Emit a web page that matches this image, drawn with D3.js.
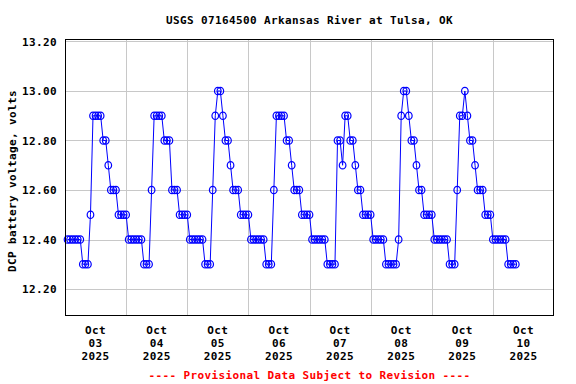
<!DOCTYPE html>
<html>
<head>
<meta charset="utf-8">
<script src="https://cdn.jsdelivr.net/npm/d3@7"></script>
<style>
  html, body { margin: 0; padding: 0; background: #fff; }
  svg text { font-family: "DejaVu Sans Mono", "Liberation Mono", monospace; font-weight: bold; font-size: 11px; letter-spacing: 0.38px; }
</style>
</head>
<body>
<svg id="chart" width="576" height="384"></svg>
<script>
// ---- data ----
const titleText = "USGS 07164500 Arkansas River at Tulsa, OK";
const yAxisTitle = "DCP battery voltage, volts";
const footerText = "---- Provisional Data Subject to Revision ----";
const firstReading = "2025-10-03T01:00:00Z";   // hourly readings
const voltage = [
  12.4,12.4,12.4,12.4,12.4,12.4,12.3,12.3,12.3,12.5,
  12.9,12.9,12.9,12.9,12.8,12.8,12.7,12.6,12.6,12.6,
  12.5,12.5,12.5,12.5,12.4,12.4,12.4,12.4,12.4,12.4,
  12.3,12.3,12.3,12.6,12.9,12.9,12.9,12.9,12.8,12.8,
  12.8,12.6,12.6,12.6,12.5,12.5,12.5,12.5,12.4,12.4,
  12.4,12.4,12.4,12.4,12.3,12.3,12.3,12.6,12.9,13.0,
  13.0,12.9,12.8,12.8,12.7,12.6,12.6,12.6,12.5,12.5,
  12.5,12.5,12.4,12.4,12.4,12.4,12.4,12.4,12.3,12.3,
  12.3,12.6,12.9,12.9,12.9,12.9,12.8,12.8,12.7,12.6,
  12.6,12.6,12.5,12.5,12.5,12.5,12.4,12.4,12.4,12.4,
  12.4,12.4,12.3,12.3,12.3,12.3,12.8,12.8,12.7,12.9,
  12.9,12.8,12.8,12.7,12.6,12.6,12.5,12.5,12.5,12.5,
  12.4,12.4,12.4,12.4,12.4,12.3,12.3,12.3,12.3,12.3,
  12.4,12.9,13.0,13.0,12.9,12.8,12.8,12.7,12.6,12.6,
  12.5,12.5,12.5,12.5,12.4,12.4,12.4,12.4,12.4,12.4,
  12.3,12.3,12.3,12.6,12.9,12.9,13.0,12.9,12.8,12.8,
  12.7,12.6,12.6,12.6,12.5,12.5,12.5,12.4,12.4,12.4,
  12.4,12.4,12.4,12.3,12.3,12.3,12.3
];
const yTicks = [12.2, 12.4, 12.6, 12.8, 13.0, 13.2];
const yTickLabels = ["12.20", "12.40", "12.60", "12.80", "13.00", "13.20"];
const dayDates = ["2025-10-03","2025-10-04","2025-10-05","2025-10-06","2025-10-07","2025-10-08","2025-10-09","2025-10-10"];
const dayMonth = ["Oct","Oct","Oct","Oct","Oct","Oct","Oct","Oct"];
const dayNum = ["03","04","05","06","07","08","09","10"];
const dayYear = ["2025","2025","2025","2025","2025","2025","2025","2025"];
const xStart = "2025-10-03T00:00:00Z";
const xEnd = "2025-10-11T00:00:00Z";

// ---- layout ----
const L = 65, R = 554, T = 40, B = 316;
const svg = d3.select("#chart");
const t0 = new Date(firstReading);
const data = voltage.map((v, i) => ({ t: d3.utcHour.offset(t0, i), v }));

const x = d3.scaleUtc().domain([new Date(xStart), new Date(xEnd)]).range([L, R]);
const y = d3.scaleLinear().domain([12.091, 13.206]).range([B, T]);

// horizontal grid
svg.append("g")
  .attr("transform", `translate(${L},0)`)
  .call(d3.axisLeft(y).tickValues(yTicks).tickSize(-(R - L)).tickFormat(""))
  .call(g => g.select(".domain").remove())
  .call(g => g.selectAll("line").attr("stroke", "#c8c8c8").attr("shape-rendering", "crispEdges"));

// vertical grid at midnights
const midnights = d3.utcDay.range(d3.utcDay.offset(new Date(xStart), 1), new Date(xEnd));
svg.append("g")
  .attr("transform", `translate(0,${B})`)
  .call(d3.axisBottom(x).tickValues(midnights).tickSize(-(B - T)).tickFormat(""))
  .call(g => g.select(".domain").remove())
  .call(g => g.selectAll("line").attr("stroke", "#c8c8c8").attr("shape-rendering", "crispEdges"));

// y tick labels
svg.append("g")
  .attr("transform", `translate(${L - 8},0)`)
  .call(d3.axisLeft(y).tickValues(yTicks).tickSize(0).tickPadding(0).tickFormat((d, i) => yTickLabels[i]))
  .call(g => g.select(".domain").remove())
  .call(g => g.selectAll("text").attr("fill", "#000").attr("dy", "0.36em"));
svg.selectAll("g").attr("font-family", null).attr("font-size", null);

// x tick labels (centred on noon of each day)
const xl = svg.append("g");
dayDates.forEach((d, i) => {
  const cx = x(d3.utcHour.offset(new Date(d + "T00:00:00Z"), 12));
  const tx = xl.append("text").attr("text-anchor", "middle").attr("fill", "#000");
  tx.append("tspan").attr("x", cx).attr("y", 334).text(dayMonth[i]);
  tx.append("tspan").attr("x", cx).attr("y", 347).text(dayNum[i]);
  tx.append("tspan").attr("x", cx).attr("y", 360).text(dayYear[i]);
});

// data line
svg.append("path")
  .datum(data)
  .attr("fill", "none")
  .attr("stroke", "#0000ff")
  .attr("stroke-width", 1)
  .attr("d", d3.line().x(d => x(d.t)).y(d => y(d.v)));

// markers
svg.append("g").selectAll("ellipse").data(data).join("ellipse")
  .attr("cx", d => x(d.t)).attr("cy", d => y(d.v))
  .attr("rx", 3.3).attr("ry", 3.7)
  .attr("fill", "none").attr("stroke", "#0000ff").attr("stroke-width", 1.2);

// plot border
svg.append("rect")
  .attr("x", L + 0.5).attr("y", T - 0.5).attr("width", R - L - 1).attr("height", B - T)
  .attr("fill", "none").attr("stroke", "#000").attr("stroke-width", 1)
  .attr("shape-rendering", "crispEdges");

// title
svg.append("text").attr("x", (L + R) / 2).attr("y", 24).attr("text-anchor", "middle")
  .attr("fill", "#000").text(titleText);

// y axis title
svg.append("text").attr("transform", "translate(15.5,181) rotate(-90)")
  .attr("text-anchor", "middle").attr("fill", "#000").text(yAxisTitle);

// footer
svg.append("text").attr("x", (L + R) / 2).attr("y", 379).attr("text-anchor", "middle")
  .attr("fill", "#ff0000").text(footerText);
</script>
</body>
</html>
